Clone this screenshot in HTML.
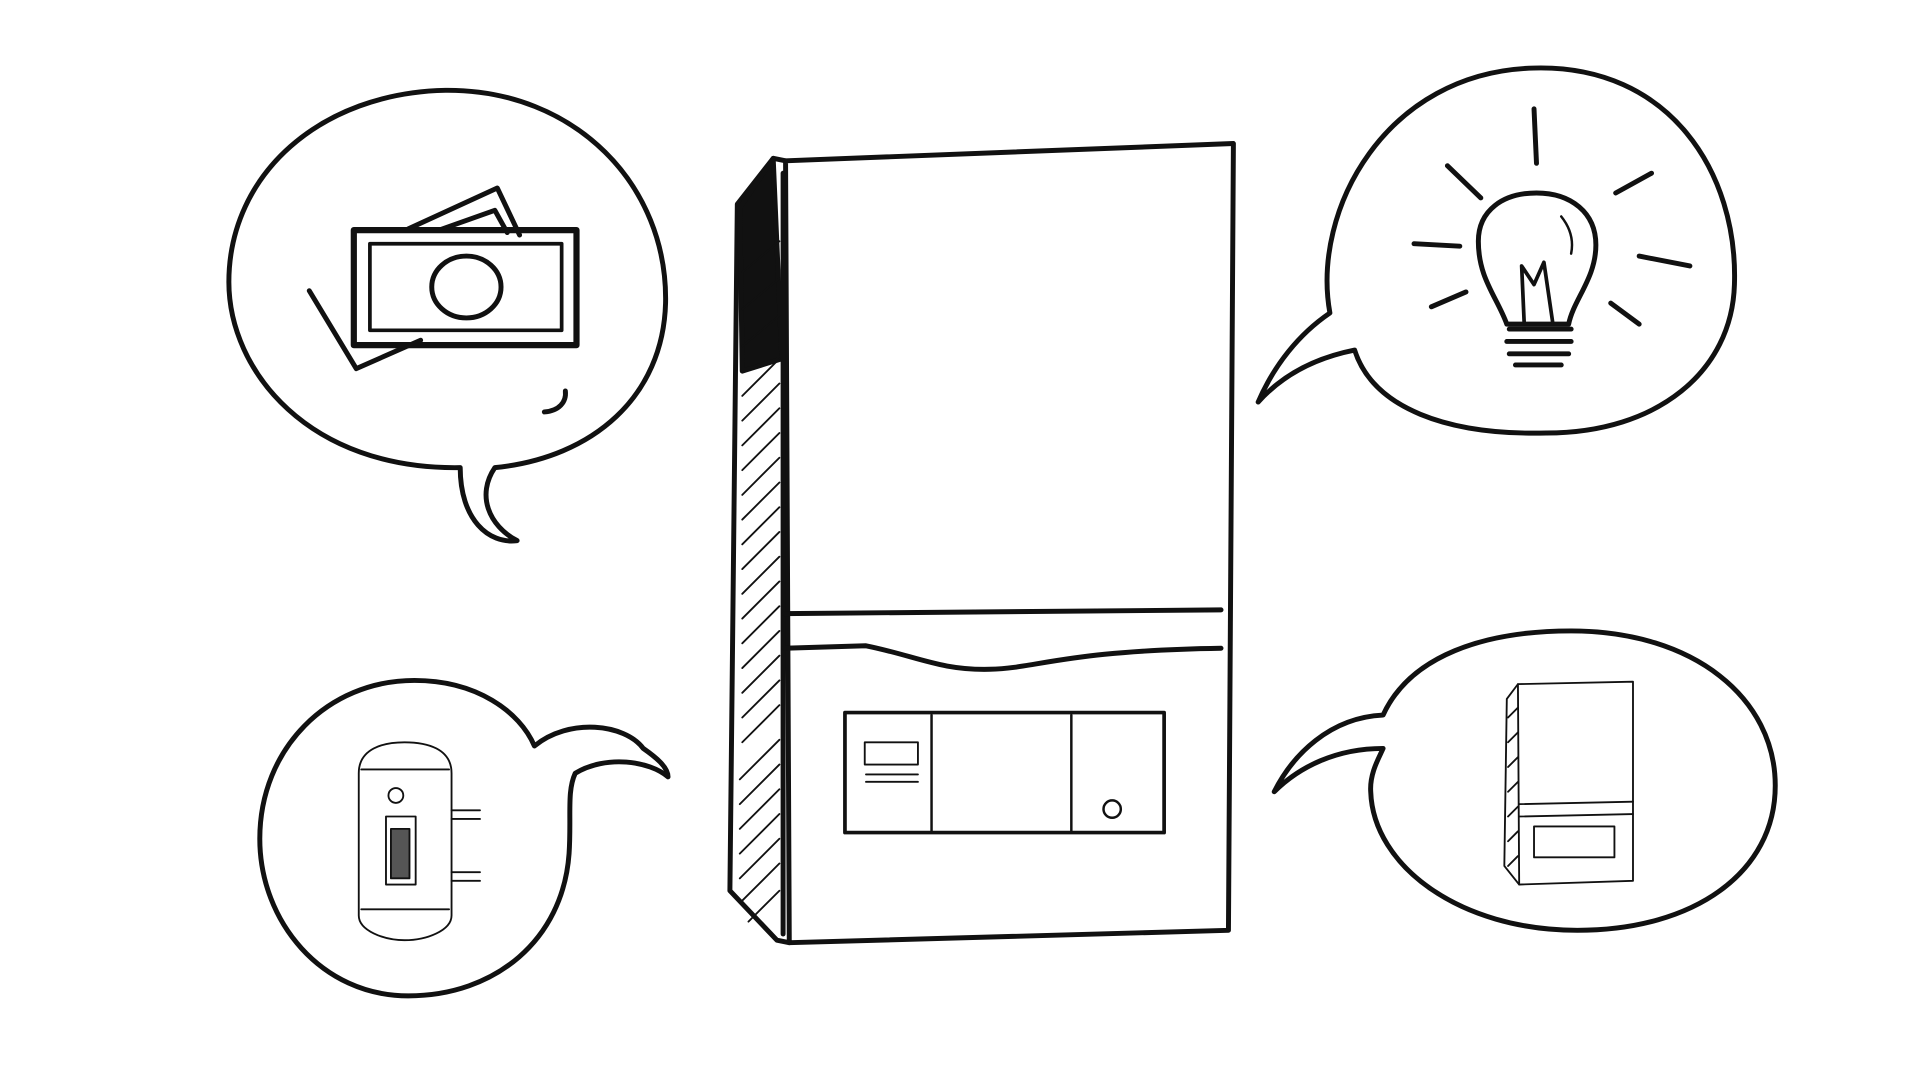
<!DOCTYPE html>
<html><head><meta charset="utf-8"><style>html,body{margin:0;padding:0;background:#fff;overflow:hidden}svg{display:block}</style></head>
<body>
<svg width="1920" height="1080" viewBox="0 0 1552 873" preserveAspectRatio="none" xmlns="http://www.w3.org/2000/svg">
<g fill="none" stroke="#111" stroke-width="4" stroke-linecap="round" stroke-linejoin="round">
<!-- Boiler -->
<path d="M635,130 L997,116 L993,752 L638,762 Z"/>
<path d="M635,130 L625,128 L596,165 L590,720 L628,760 L638,762" />
<path d="M625,128 L598,168 L600,300 L632,290 Z" fill="#111"/>
<path d="M633,140 L633,755"/>
<path d="M634,496 L987,493"/>
<path d="M634,524 L700,522 C740,530 760,542 800,541 C840,540 860,526 987,524"/>
<rect x="683" y="576" width="258" height="97" stroke-width="3"/>
<path d="M753,578 L753,672 M866,578 L866,672" stroke-width="2"/>
<rect x="699" y="600" width="43" height="18" stroke-width="1.5"/>
<path d="M700,626 L742,626 M700,632 L742,632" stroke-width="1.5"/>
<circle cx="899" cy="654" r="7" stroke-width="2"/>
<g stroke-width="1.5">
<path d="M600,320 L630,290 M600,340 L630,310 M600,360 L630,330 M600,380 L630,350 M600,400 L630,370 M600,420 L630,390 M600,440 L630,410 M600,460 L630,430 M600,480 L630,450 M600,500 L630,470 M600,520 L630,490 M600,540 L630,510 M600,560 L630,530 M600,580 L630,550 M600,600 L630,570 M598,630 L630,598 M598,650 L630,618 M598,670 L630,638 M598,690 L630,658 M598,710 L630,678 M598,730 L630,698 M605,745 L630,720 M600,220 L630,195 M600,250 L630,225 M600,280 L630,255"/>
</g>
<!-- Top left bubble -->
<path d="M372,378 C250,380 185,300 185,228 C185,140 260,75 360,73 C465,72 540,150 538,245 C536,320 480,370 400,378 C385,400 395,425 418,437 C395,440 372,420 372,378 Z"/>
<path d="M440,333 C452,332 458,325 457,316"/>
<!-- money -->
<path d="M250,235 L288,298 L340,275"/>
<path d="M330,185 L402,152 L420,190"/>
<path d="M355,186 L400,170 L410,188"/>
<rect x="286" y="186" width="180" height="93" stroke-width="5"/>
<rect x="299" y="197" width="155" height="70" stroke-width="3"/>
<ellipse cx="377" cy="232" rx="28" ry="25" stroke-width="4"/>
<!-- Top right bubble -->
<path d="M1075,253 C1060,170 1120,58 1240,55 C1350,52 1405,140 1402,230 C1400,300 1340,350 1250,350 C1170,352 1110,330 1095,283 C1060,290 1035,305 1017,325 C1030,295 1050,270 1075,253 Z"/>
<path d="M1240,88 L1242,132 M1170,134 L1197,160 M1306,156 L1335,140 M1143,197 L1180,199 M1325,207 L1366,215 M1157,248 L1185,236 M1302,245 L1325,262"/>
<path d="M1218,262 C1210,240 1195,225 1195,195 C1195,170 1215,156 1242,156 C1270,156 1290,172 1290,198 C1290,225 1272,242 1268,262 Z"/>
<path d="M1232,260 L1230,215 L1240,230 L1248,212 L1255,260" stroke-width="3"/>
<path d="M1220,266 L1270,266 M1218,276 L1270,276 M1220,286 L1268,286 M1225,295 L1262,295"/>
<path d="M1262,175 C1270,185 1272,195 1270,205" stroke-width="2"/>
<!-- Bottom left bubble -->
<path d="M432,603 C460,580 505,585 520,605 C530,612 540,620 540,628 C525,615 490,610 465,625 C458,640 462,660 460,690 C455,760 400,805 330,805 C260,805 210,745 210,678 C210,605 265,550 335,550 C385,550 420,575 432,603 Z"/>
<g stroke-width="1.5">
<path d="M290,625 C290,605 310,600 327,600 C345,600 365,605 365,625 L365,740 C365,752 345,760 327,760 C310,760 290,752 290,740 Z"/>
<path d="M292,622 L363,622 M292,735 L363,735"/>
<circle cx="320" cy="643" r="6"/>
<rect x="312" y="660" width="24" height="55"/>
<rect x="316" y="670" width="15" height="40" fill="#555"/>
<path d="M365,655 L388,655 M365,662 L388,662 M365,705 L388,705 M365,712 L388,712"/>
<!-- mini boiler -->
<path d="M1227,553 L1320,551 L1320,712 L1228,715 Z"/>
<path d="M1227,553 L1218,565 L1216,700 L1228,715"/>
<path d="M1228,650 L1320,648 M1228,660 L1320,658"/>
<rect x="1240" y="668" width="65" height="25"/>
<path d="M1219,580 L1227,572 M1219,600 L1227,592 M1219,620 L1227,612 M1219,640 L1227,632 M1219,660 L1227,652 M1219,680 L1227,672 M1219,700 L1227,692"/>
</g>
<!-- Bottom right bubble -->
<path d="M1118,578 C1140,530 1200,510 1270,510 C1370,510 1435,565 1435,635 C1435,705 1370,752 1275,752 C1180,752 1110,700 1108,640 C1107,625 1115,612 1118,605 C1080,605 1050,620 1030,640 C1045,610 1075,580 1118,578 Z"/>
</g>
</svg>
</body></html>
